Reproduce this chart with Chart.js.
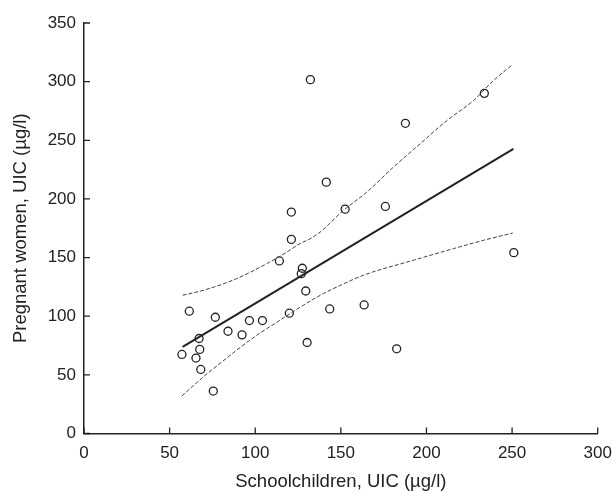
<!DOCTYPE html>
<html lang="en">
<head>
    <meta charset="UTF-8">
    <title>Schoolchildren vs pregnant women UIC</title>
    <script src="https://cdn.jsdelivr.net/npm/chart.js"></script>
    <style>
        body { margin: 0; background: white; }
        #wrap { width: 612px; height: 491px; }
    </style>
</head>
<body>
<div id="wrap"><canvas id="uicChart"></canvas></div>
<script>
    var schoolUIC = [57.2, 61.5, 65.4, 67.2, 67.6, 68.2, 75.5, 76.7, 84.1, 92.3, 96.6, 104.2, 114.1, 119.9, 121.1,
        121.1, 126.9, 127.5, 129.5, 130.3, 132.2, 141.5, 143.5, 152.5, 163.6, 176.0, 182.6, 187.7, 233.8, 251.0];
    var pregnantUIC = [67.4, 104.3, 64.3, 81.0, 71.7, 54.6, 36.2, 99.1, 87.2, 84.1, 96.3, 96.3, 147.1, 102.6, 165.5,
        188.8, 136.3, 140.9, 121.5, 77.6, 301.7, 214.3, 106.2, 191.3, 109.6, 193.6, 72.2, 264.5, 290.0, 154.2];

    // fitted line
    var fitX = [57.6, 250.8];
    var fitY = [73.9, 242.7];

    // confidence band
    var upperX = [57.6, 69.7, 89.2, 106.7, 118.4, 126.2, 132.0, 137.9, 151.5, 165.1, 180.7, 196.3, 211.9, 227.4, 239.1, 250.2];
    var upperY = [117.9, 122.1, 132.1, 144.8, 154.7, 161.9, 166.0, 171.7, 190.2, 205.8, 227.1, 247.0, 266.8, 283.8, 300.9, 314.5];
    var lowerX = [57.1, 69.7, 79.4, 89.2, 100.9, 114.5, 128.1, 139.8, 150.0, 163.1, 192.3, 215.7, 233.2, 250.4];
    var lowerY = [31.9, 48.3, 59.7, 71.1, 83.8, 96.6, 109.4, 119.3, 126.5, 134.9, 147.7, 157.6, 164.7, 170.9];

    var xTicks = [0, 50, 100, 150, 200, 250, 300];
    var yTicks = [0, 50, 100, 150, 200, 250, 300, 350];

    function pairs(xs, ys) {
        return xs.map((x, i) => ({ x: x, y: ys[i] }));
    }

    var ink = '#222';

    // tick marks pointing into the plot
    var innerTicks = {
        id: 'innerTicks',
        afterDraw(chart) {
            var ctx = chart.ctx;
            var xs = chart.scales.x, ys = chart.scales.y;
            ctx.save();
            ctx.strokeStyle = ink;
            ctx.lineWidth = 1.3;
            ctx.beginPath();
            xTicks.forEach(v => {
                var p = xs.getPixelForValue(v);
                ctx.moveTo(p, xs.top);
                ctx.lineTo(p, xs.top - 6);
            });
            yTicks.forEach(v => {
                var p = ys.getPixelForValue(v);
                ctx.moveTo(ys.right, p);
                ctx.lineTo(ys.right + 6, p);
            });
            ctx.stroke();
            ctx.restore();
        }
    };

    var band = {
        showLine: true,
        borderColor: '#444',
        borderWidth: 1,
        borderDash: [4, 2],
        cubicInterpolationMode: 'monotone',
        pointRadius: 0,
        fill: false
    };

    new Chart(document.getElementById('uicChart'), {
        type: 'scatter',
        data: {
            datasets: [
                Object.assign({ data: pairs(upperX, upperY) }, band),
                Object.assign({ data: pairs(lowerX, lowerY) }, band),
                {
                    data: pairs(fitX, fitY),
                    showLine: true,
                    borderColor: ink,
                    borderWidth: 2,
                    pointRadius: 0,
                    fill: false
                },
                {
                    data: pairs(schoolUIC, pregnantUIC),
                    pointRadius: 4,
                    pointBorderWidth: 1.3,
                    pointBorderColor: ink,
                    pointBackgroundColor: 'rgba(0,0,0,0)'
                }
            ]
        },
        options: {
            responsive: true,
            maintainAspectRatio: false,
            animation: false,
            layout: { padding: { top: 23, right: 0, left: 0, bottom: 0 } },
            plugins: {
                legend: { display: false },
                tooltip: { enabled: false }
            },
            scales: {
                x: {
                    type: 'linear',
                    min: 0,
                    max: 300,
                    afterFit: s => { s.height = 57.5; s.paddingRight = 14.3; s.paddingLeft = 0; },
                    afterBuildTicks: s => { s.ticks = xTicks.map(v => ({ value: v })); },
                    grid: { display: false, drawTicks: false },
                    border: { color: ink, width: 1.5 },
                    ticks: { color: ink, padding: 10, font: { family: 'Liberation Sans', size: 17 } },
                    title: {
                        display: true,
                        text: 'Schoolchildren, UIC (µg/l)',
                        color: ink,
                        padding: { top: 0, bottom: 0 },
                        font: { family: 'Liberation Sans', size: 18.5, lineHeight: 1 }
                    }
                },
                y: {
                    type: 'linear',
                    min: 0,
                    max: 350,
                    afterFit: s => { s.width = 84; },
                    afterBuildTicks: s => { s.ticks = yTicks.map(v => ({ value: v })); },
                    grid: { display: false, drawTicks: false },
                    border: { color: ink, width: 1.5 },
                    ticks: { color: ink, padding: 8, font: { family: 'Liberation Sans', size: 17 } },
                    title: {
                        display: true,
                        text: 'Pregnant women, UIC (µg/l)',
                        color: ink,
                        padding: { top: 10, bottom: 0 },
                        font: { family: 'Liberation Sans', size: 18.5 }
                    }
                }
            }
        },
        plugins: [innerTicks]
    });
</script>
</body>
</html>
